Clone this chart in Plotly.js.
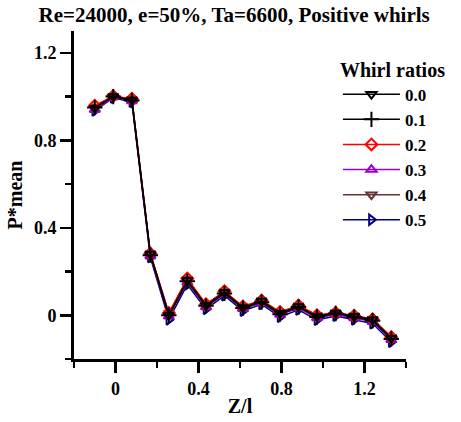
<!DOCTYPE html>
<html>
<head>
<meta charset="utf-8">
<script src="https://cdn.plot.ly/plotly-3.0.1.min.js"></script>
<style>html,body{margin:0;padding:0;background:#fff;}#chart{width:461px;height:422px;}</style>
</head>
<body>
<div id="chart"></div>
<script>
const zl = [-0.1, -0.011, 0.079, 0.168, 0.257, 0.346, 0.436, 0.525, 0.614, 0.704, 0.793, 0.882, 0.971, 1.061, 1.150, 1.239, 1.329];
const ratioNames = ['0.0', '0.1', '0.2', '0.3', '0.4', '0.5'];
const w00 = [0.947, 1.0, 0.985, 0.28, 0.0, 0.16, 0.045, 0.105, 0.035, 0.065, 0.01, 0.04, -0.005, 0.01, -0.005, -0.02, -0.105];
const w01 = [0.95, 1.0, 0.982, 0.275, 0.0, 0.155, 0.043, 0.1, 0.033, 0.06, 0.005, 0.038, -0.008, 0.008, -0.008, -0.025, -0.108];
const w02 = [0.958, 1.003, 0.99, 0.282, 0.01, 0.168, 0.05, 0.11, 0.04, 0.068, 0.015, 0.045, 0.0, 0.012, -0.002, -0.018, -0.1];
const w03 = [0.94, 0.998, 0.98, 0.27, -0.005, 0.15, 0.038, 0.098, 0.03, 0.056, 0.003, 0.033, -0.012, 0.004, -0.012, -0.03, -0.112];
const w04 = [0.952, 1.002, 0.988, 0.283, 0.008, 0.165, 0.05, 0.108, 0.04, 0.066, 0.012, 0.043, 0.0, 0.012, -0.002, -0.018, -0.1];
const w05 = [0.935, 0.995, 0.975, 0.265, -0.02, 0.14, 0.028, 0.09, 0.02, 0.05, -0.008, 0.025, -0.022, -0.003, -0.02, -0.038, -0.122];
const seriesVals = [w00, w01, w02, w03, w04, w05];

const colors = ['#000000', '#000000', '#ff0000', '#9900cc', '#663333', '#000080'];
const symbols = ['triangle-down-open', 'cross-thin-open', 'diamond-open', 'triangle-up-open', 'triangle-down-open', 'triangle-right-open'];
const sizes = [9, 11, 9, 9, 9, 9];

const FONT = 'Liberation Serif, Times New Roman, serif';
const traces = [];
for (let i = ratioNames.length - 1; i >= 0; i--) {
  traces.push({
    x: zl, y: seriesVals[i], name: ratioNames[i], type: 'scatter', mode: 'lines+markers',
    line: {color: colors[i], width: 1.5},
    marker: {symbol: symbols[i], size: sizes[i], color: colors[i], line: {color: colors[i], width: 2}}
  });
}

const axisCommon = {
  showline: true, linewidth: 3, linecolor: '#000', showgrid: false, zeroline: false,
  ticks: 'outside', ticklen: 11, tickwidth: 2.5, tickcolor: '#000',
  tickfont: {family: FONT, size: 18, color: '#000', weight: 'bold'},
  dtick: 0.4, tick0: 0,
  minor: {dtick: 0.2, tick0: 0, ticks: 'outside', ticklen: 6, tickwidth: 2.5, tickcolor: '#000', showgrid: false}
};

const layout = {
  width: 461, height: 422,
  margin: {l: 74, r: 55, t: 31, b: 63},
  paper_bgcolor: '#fff', plot_bgcolor: '#fff',
  font: {family: FONT, color: '#000'},
  title: {text: 'Re=24000, e=50%, Ta=6600, Positive whirls', font: {family: FONT, size: 21, weight: 'bold', color: '#000'}, x: 0.508, xanchor: 'center', y: 0.965, yanchor: 'middle'},
  xaxis: Object.assign({}, axisCommon, {range: [-0.2, 1.4], title: {text: 'Z/l', font: {family: FONT, size: 20, weight: 'bold'}, standoff: 2}}),
  yaxis: Object.assign({}, axisCommon, {range: [-0.2, 1.3], title: {text: 'P*mean', font: {family: FONT, size: 20, weight: 'bold'}, standoff: 6}}),
  showlegend: true,
  legend: {
    x: 0.795, y: 0.94, xanchor: 'left', yanchor: 'top', traceorder: 'reversed',
    bgcolor: 'rgba(0,0,0,0)', borderwidth: 0,
    font: {family: FONT, size: 17, weight: 'bold', color: '#000'},
    title: {text: 'Whirl ratios', font: {family: FONT, size: 20, weight: 'bold'}},
    itemwidth: 57, tracegroupgap: 0
  }
};

Plotly.newPlot('chart', traces, layout, {displayModeBar: false, staticPlot: true});
</script>
</body>
</html>
